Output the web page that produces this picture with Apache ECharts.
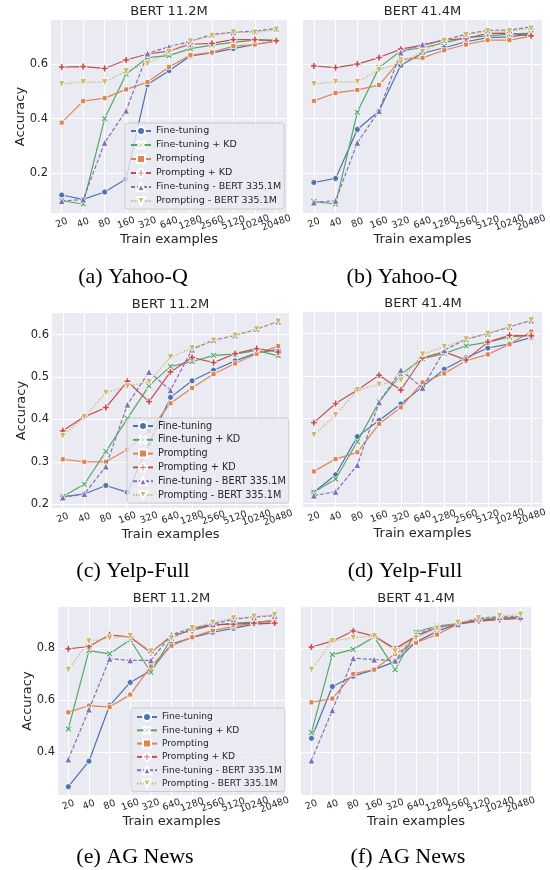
<!DOCTYPE html>
<html><head><meta charset="utf-8">
<script src="https://cdn.jsdelivr.net/npm/echarts@6/dist/echarts.min.js"></script>
<style>html,body{margin:0;padding:0;background:#fff}#c{width:550px;height:870px}</style>
</head><body><div id="c"></div>
<script>
// ---------- data ----------
const trainExamples = ['20','40','80','160','320','640','1280','2560','5120','10240','20480'];
const seriesNames = ['Fine-tuning','Fine-tuning + KD','Prompting','Prompting + KD','Fine-tuning - BERT 335.1M','Prompting - BERT 335.1M'];
const yTicksYahoo = [0.2, 0.4, 0.6];
const yTicksYelp = [0.2, 0.3, 0.4, 0.5, 0.6];
const yTicksAG = [0.4, 0.6, 0.8];

// (a) Yahoo-Q, BERT 11.2M
const yahooSmall_ft   = [0.119, 0.103, 0.130, 0.178, 0.525, 0.576, 0.630, 0.641, 0.657, 0.672, 0.684];
const yahooSmall_ftkd = [0.098, 0.086, 0.400, 0.563, 0.624, 0.631, 0.657, 0.670, 0.680, 0.688, 0.688];
const yahooSmall_p    = [0.385, 0.464, 0.475, 0.507, 0.534, 0.589, 0.633, 0.643, 0.666, 0.672, 0.686];
const yahooSmall_pkd  = [0.589, 0.591, 0.584, 0.615, 0.637, 0.648, 0.673, 0.676, 0.690, 0.690, 0.686];
const yahooSmall_ftL  = [0.097, 0.103, 0.311, 0.429, 0.639, 0.664, 0.684, 0.709, 0.717, 0.721, 0.731];
const yahooSmall_pL   = [0.527, 0.534, 0.534, 0.574, 0.602, 0.645, 0.684, 0.704, 0.717, 0.716, 0.727];
// (b) Yahoo-Q, BERT 41.4M
const yahooLarge_ft   = [0.165, 0.180, 0.360, 0.428, 0.596, 0.640, 0.660, 0.682, 0.697, 0.700, 0.711];
const yahooLarge_ftkd = [0.095, 0.086, 0.423, 0.587, 0.649, 0.660, 0.678, 0.697, 0.704, 0.710, 0.714];
const yahooLarge_p    = [0.465, 0.494, 0.505, 0.523, 0.617, 0.623, 0.651, 0.672, 0.688, 0.688, 0.703];
const yahooLarge_pkd  = [0.593, 0.587, 0.600, 0.624, 0.655, 0.670, 0.688, 0.694, 0.713, 0.714, 0.704];
const yahooLarge_ftL  = [0.092, 0.098, 0.311, 0.428, 0.643, 0.672, 0.688, 0.710, 0.724, 0.725, 0.737];
const yahooLarge_pL   = [0.527, 0.535, 0.535, 0.578, 0.606, 0.645, 0.686, 0.707, 0.722, 0.721, 0.731];
// (c) Yelp-Full, BERT 11.2M
const yelpSmall_ft   = [0.218, 0.224, 0.244, 0.228, 0.342, 0.452, 0.491, 0.516, 0.538, 0.557, 0.565];
const yelpSmall_ftkd = [0.218, 0.247, 0.324, 0.402, 0.479, 0.525, 0.536, 0.551, 0.554, 0.563, 0.550];
const yelpSmall_p    = [0.306, 0.300, 0.300, 0.329, 0.373, 0.438, 0.474, 0.507, 0.532, 0.555, 0.573];
const yelpSmall_pkd  = [0.373, 0.406, 0.428, 0.490, 0.442, 0.512, 0.546, 0.534, 0.555, 0.567, 0.559];
const yelpSmall_ftL  = [0.216, 0.224, 0.289, 0.435, 0.512, 0.469, 0.565, 0.587, 0.598, 0.613, 0.631];
const yelpSmall_pL   = [0.361, 0.406, 0.463, 0.478, 0.489, 0.547, 0.568, 0.586, 0.598, 0.613, 0.631];
// (d) Yelp-Full, BERT 41.4M
const yelpLarge_ft   = [0.226, 0.267, 0.357, 0.395, 0.434, 0.475, 0.516, 0.543, 0.566, 0.576, 0.591];
const yelpLarge_ftkd = [0.226, 0.257, 0.345, 0.439, 0.504, 0.541, 0.553, 0.571, 0.580, 0.592, 0.596];
const yelpLarge_p    = [0.275, 0.304, 0.320, 0.387, 0.426, 0.485, 0.506, 0.536, 0.551, 0.575, 0.605];
const yelpLarge_pkd  = [0.390, 0.435, 0.467, 0.502, 0.467, 0.543, 0.557, 0.538, 0.580, 0.596, 0.595];
const yelpLarge_ftL  = [0.218, 0.227, 0.290, 0.438, 0.514, 0.472, 0.561, 0.587, 0.600, 0.616, 0.631];
const yelpLarge_pL   = [0.361, 0.408, 0.467, 0.480, 0.490, 0.551, 0.569, 0.587, 0.600, 0.616, 0.632];
// (e) AG News, BERT 11.2M
const agSmall_ft   = [0.267, 0.365, 0.579, 0.668, 0.714, 0.815, 0.840, 0.861, 0.876, 0.892, 0.896];
const agSmall_ftkd = [0.489, 0.790, 0.778, 0.832, 0.707, 0.838, 0.877, 0.887, 0.896, 0.900, 0.905];
const agSmall_p    = [0.553, 0.579, 0.573, 0.621, 0.730, 0.809, 0.842, 0.868, 0.883, 0.896, 0.909];
const agSmall_pkd  = [0.797, 0.806, 0.851, 0.842, 0.783, 0.847, 0.868, 0.889, 0.892, 0.896, 0.896];
const agSmall_ftL  = [0.372, 0.564, 0.759, 0.753, 0.753, 0.851, 0.877, 0.892, 0.911, 0.919, 0.925];
const agSmall_pL   = [0.717, 0.826, 0.838, 0.847, 0.787, 0.838, 0.877, 0.898, 0.915, 0.921, 0.928];
// (f) AG News, BERT 41.4M
const agLarge_ft   = [0.453, 0.652, 0.692, 0.717, 0.748, 0.823, 0.865, 0.892, 0.907, 0.914, 0.916];
const agLarge_ftkd = [0.475, 0.775, 0.795, 0.843, 0.717, 0.862, 0.885, 0.894, 0.910, 0.914, 0.920];
const agLarge_p    = [0.591, 0.606, 0.701, 0.717, 0.778, 0.821, 0.852, 0.892, 0.903, 0.910, 0.916];
const agLarge_pkd  = [0.804, 0.827, 0.866, 0.846, 0.797, 0.846, 0.879, 0.892, 0.905, 0.910, 0.914];
const agLarge_ftL  = [0.368, 0.561, 0.761, 0.756, 0.752, 0.852, 0.881, 0.892, 0.914, 0.920, 0.920];
const agLarge_pL   = [0.717, 0.827, 0.840, 0.846, 0.787, 0.839, 0.875, 0.898, 0.916, 0.924, 0.929];

// ---------- styling ----------
const FONT = 'DejaVu Sans';
const TXT = '#262626';
const BG = '#EAEAF2';
const COLORS = ['#4C72B0', '#55A868', '#DD8452', '#C44E52', '#8172B3', '#CCB974'];
const X_PATH = 'path://M0,2 L2,0 L5,3 L8,0 L10,2 L7,5 L10,8 L8,10 L5,7 L2,10 L0,8 L3,5 Z';
const PLUS_PATH = 'path://M3.3,0 H6.7 V3.3 H10 V6.7 H6.7 V10 H3.3 V6.7 H0 V3.3 H3.3 Z';
const SYMBOLS = ['circle', X_PATH, 'rect', PLUS_PATH, 'triangle', 'triangle'];
const SYMROT = [0, 0, 0, 0, 0, 180];
const SYMSIZE = [6, 6.5, 5, 7, 7, 7];
const LINETYPE = ['solid', 'solid', 'solid', 'solid', [4, 2], [1.5, 1.5]];

const panels = [
  { data: [yahooSmall_ft, yahooSmall_ftkd, yahooSmall_p, yahooSmall_pkd, yahooSmall_ftL, yahooSmall_pL],
    grid: { left: 51, top: 20, width: 236, height: 193 }, yMin: 0.053, yMax: 0.762, yTicks: yTicksYahoo, yLabel: true,
    title: 'BERT 11.2M', caption: '(a) Yahoo-Q', capX: 133, capY: 277,
    legend: { left: 125, top: 123, fs: 9.5, gap: 4, padTop: 3 } },
  { data: [yahooLarge_ft, yahooLarge_ftkd, yahooLarge_p, yahooLarge_pkd, yahooLarge_ftL, yahooLarge_pL],
    grid: { left: 303, top: 20, width: 239, height: 193 }, yMin: 0.053, yMax: 0.762, yTicks: yTicksYahoo, yLabel: false,
    title: 'BERT 41.4M', caption: '(b) Yahoo-Q', capX: 402, capY: 277 },
  { data: [yelpSmall_ft, yelpSmall_ftkd, yelpSmall_p, yelpSmall_pkd, yelpSmall_ftL, yelpSmall_pL],
    grid: { left: 52, top: 313, width: 237, height: 195 }, yMin: 0.191, yMax: 0.651, yTicks: yTicksYelp, yLabel: true,
    title: 'BERT 11.2M', caption: '(c) Yelp-Full', capX: 133, capY: 571,
    legend: { left: 127, top: 418, fs: 9.7, gap: 3.8, padTop: 3 } },
  { data: [yelpLarge_ft, yelpLarge_ftkd, yelpLarge_p, yelpLarge_pkd, yelpLarge_ftL, yelpLarge_pL],
    grid: { left: 303, top: 312, width: 240, height: 195 }, yMin: 0.191, yMax: 0.651, yTicks: yTicksYelp, yLabel: false,
    title: 'BERT 41.4M', caption: '(d) Yelp-Full', capX: 405, capY: 571 },
  { data: [agSmall_ft, agSmall_ftkd, agSmall_p, agSmall_pkd, agSmall_ftL, agSmall_pL],
    grid: { left: 58, top: 607, width: 227, height: 188 }, yMin: 0.235, yMax: 0.958, yTicks: yTicksAG, yLabel: true,
    title: 'BERT 11.2M', caption: '(e) AG News', capX: 135, capY: 857,
    legend: { left: 131, top: 708, fs: 9.1, gap: 3.3, padTop: 4 } },
  { data: [agLarge_ft, agLarge_ftkd, agLarge_p, agLarge_pkd, agLarge_ftL, agLarge_pL],
    grid: { left: 301, top: 607, width: 230, height: 188 }, yMin: 0.235, yMax: 0.958, yTicks: yTicksAG, yLabel: false,
    title: 'BERT 41.4M', caption: '(f) AG News', capX: 408, capY: 857 }
];

const xIdx = trainExamples.map((_, i) => i);
// labels are split over two twin bottom axes (even / odd ticks) so the library does not auto-hide overlapping rotated labels
const xIdxEven = xIdx.filter(i => i % 2 === 0);
const xIdxOdd = xIdx.filter(i => i % 2 === 1);
const grids = [], xAxes = [], yAxes = [], series = [], legends = [], graphics = [];

const xLabelStyle = { formatter: v => trainExamples[Math.round(v)], rotate: 20, margin: 10,
  align: 'center', verticalAlign: 'middle', fontFamily: FONT, fontSize: 9.5, color: TXT };

panels.forEach((p, k) => {
  grids.push(Object.assign({ show: true, backgroundColor: BG, borderWidth: 0, containLabel: false }, p.grid));
  xAxes.push({
    type: 'value', gridIndex: k, position: 'bottom', min: -0.5, max: 10.5,
    axisLine: { show: false },
    axisTick: { show: false, customValues: xIdx },
    splitLine: { show: true, lineStyle: { color: '#ffffff', width: 1 } },
    axisLabel: Object.assign({ customValues: xIdxEven }, xLabelStyle),
    name: 'Train examples', nameLocation: 'middle', nameGap: 20, nameMoveOverlap: false,
    nameTextStyle: { fontFamily: FONT, fontSize: 13, color: TXT, verticalAlign: 'top' }
  });
  xAxes.push({
    type: 'value', gridIndex: k, position: 'bottom', offset: 0, min: -0.5, max: 10.5,
    axisLine: { show: false },
    axisTick: { show: false, customValues: xIdxOdd },
    splitLine: { show: false },
    axisLabel: Object.assign({ customValues: xIdxOdd }, xLabelStyle)
  });
  yAxes.push({
    type: 'value', gridIndex: k, min: p.yMin, max: p.yMax,
    axisLine: { show: false },
    axisTick: { show: false, customValues: p.yTicks },
    splitLine: { show: true, lineStyle: { color: '#ffffff', width: 1 } },
    axisLabel: { show: p.yLabel, customValues: p.yTicks, formatter: v => v.toFixed(1), margin: 3,
      fontFamily: FONT, fontSize: 11.5, color: TXT },
    name: p.yLabel ? 'Accuracy' : '', nameLocation: 'middle', nameGap: 24, nameMoveOverlap: false,
    nameTextStyle: { fontFamily: FONT, fontSize: 13, color: TXT }
  });
  p.data.forEach((arr, s) => {
    series.push({
      type: 'line', name: seriesNames[s], xAxisIndex: 2 * k, yAxisIndex: k,
      data: arr.map((v, i) => [i, v]),
      symbol: SYMBOLS[s], symbolSize: SYMSIZE[s], symbolRotate: SYMROT[s], showAllSymbol: true,
      lineStyle: { color: COLORS[s], width: 1.2, type: LINETYPE[s] },
      itemStyle: { color: COLORS[s], borderColor: '#ffffff', borderWidth: 0.8 },
      emphasis: { disabled: true }, silent: true, z: 2 + s * 0.01
    });
  });
  if (p.legend) {
    legends.push({
      data: seriesNames, orient: 'vertical', left: p.legend.left, top: p.legend.top,
      itemWidth: 20, itemHeight: 10, itemGap: p.legend.gap, padding: [p.legend.padTop, 3, 3, 5],
      backgroundColor: 'rgba(234,234,242,0.8)', borderColor: '#cccccc', borderWidth: 1, borderRadius: 3,
      selectedMode: false,
      textStyle: { fontFamily: FONT, fontSize: p.legend.fs, color: TXT, lineHeight: 10 }
    });
  }
  const cx = p.grid.left + p.grid.width / 2;
  graphics.push({ type: 'text', x: cx, y: p.grid.top - 8, style: { text: p.title, fontFamily: FONT, fontSize: 13,
    fill: TXT, align: 'center', verticalAlign: 'middle' } });
  graphics.push({ type: 'text', x: p.capX, y: p.capY, style: { text: p.caption, fontFamily: 'Liberation Serif',
    fontSize: 22, fill: '#000000', align: 'center', verticalAlign: 'middle' } });
});

const chart = echarts.init(document.getElementById('c'), null, { renderer: 'canvas', width: 550, height: 870 });
chart.setOption({
  animation: false,
  backgroundColor: '#ffffff',
  grid: grids, xAxis: xAxes, yAxis: yAxes, series: series, legend: legends, graphic: graphics
});
</script>
</body></html>
